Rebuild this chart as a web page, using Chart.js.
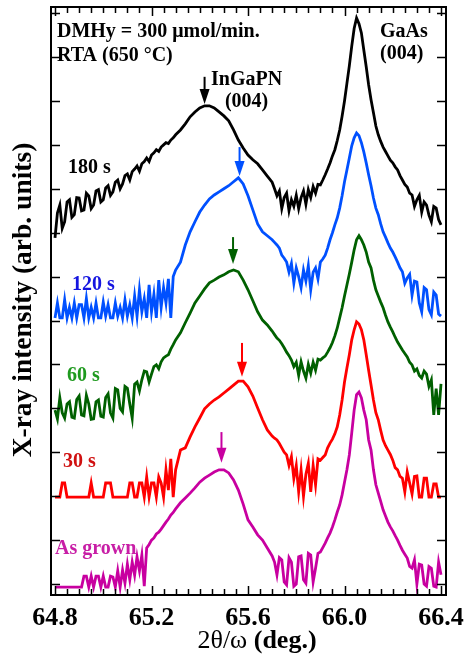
<!DOCTYPE html>
<html>
<head>
<meta charset="utf-8">
<title>XRD InGaPN RTA</title>
<script src="https://cdn.jsdelivr.net/npm/chart.js@4.4.0/dist/chart.umd.min.js"></script>
<style>
  html, body { margin: 0; padding: 0; background: #fff; }
  #wrap { width: 468px; height: 666px; }
</style>
</head>
<body>
<div id="wrap"><canvas id="xrdChart" width="468" height="666"></canvas></div>
<script>
// 2theta/omega angles (deg.): 0.01 steps, 0.02 steps over the smooth InGaPN hump
var angles = [
  64.80, 64.81, 64.82, 64.83, 64.84, 64.85, 64.86, 64.87, 64.88, 64.89,
  64.90, 64.91, 64.92, 64.93, 64.94, 64.95, 64.96, 64.97, 64.98, 64.99,
  65.00, 65.01, 65.02, 65.03, 65.04, 65.05, 65.06, 65.07, 65.08, 65.09,
  65.10, 65.11, 65.12, 65.13, 65.14, 65.15, 65.16, 65.17, 65.18, 65.19,
  65.20, 65.21, 65.22, 65.23, 65.24, 65.25, 65.26, 65.27, 65.28, 65.29,
  65.30,
  65.32, 65.34, 65.36, 65.38, 65.40, 65.42, 65.44, 65.46, 65.48, 65.50,
  65.52, 65.54, 65.56, 65.58, 65.60, 65.62, 65.64, 65.66, 65.68,
  65.70, 65.71, 65.72, 65.73, 65.74, 65.75, 65.76, 65.77, 65.78, 65.79,
  65.80, 65.81, 65.82, 65.83, 65.84, 65.85, 65.86, 65.87, 65.88, 65.89,
  65.90, 65.91, 65.92, 65.93, 65.94, 65.95, 65.96, 65.97, 65.98, 65.99,
  66.00, 66.01, 66.02, 66.03, 66.04, 66.05, 66.06, 66.07, 66.08, 66.09,
  66.10, 66.11, 66.12, 66.13, 66.14, 66.15, 66.16, 66.17, 66.18, 66.19,
  66.20, 66.21, 66.22, 66.23, 66.24, 66.25, 66.26, 66.27, 66.28, 66.29,
  66.30, 66.31, 66.32, 66.33, 66.34, 66.35, 66.36, 66.37, 66.38, 66.39,
  66.40
];

// log intensity (decades) incl. vertical offset of each curve
var rta180 = [
  7.88, 8.45, 8.63, 8.10, 8.25, 8.70, 8.75, 8.35, 8.41, 8.80,
  8.79, 8.50, 8.52, 8.90, 8.84, 8.55, 8.63, 8.95, 8.98, 8.70,
  8.75, 9.02, 9.07, 8.85, 8.93, 9.15, 9.20, 9.00, 9.11, 9.30,
  9.34, 9.20, 9.39, 9.45, 9.52, 9.40, 9.57, 9.62, 9.70, 9.62,
  9.77, 9.82, 9.89, 9.85, 9.95, 10.00, 10.05, 10.03, 10.11, 10.16,
  10.23,
  10.34, 10.48, 10.64, 10.75, 10.84, 10.89, 10.89, 10.84, 10.75, 10.66,
  10.55, 10.34, 10.11, 9.93, 9.77, 9.66, 9.57, 9.43, 9.29,
  9.15, 9.00, 8.84, 8.95, 8.55, 8.80, 8.90, 8.50, 8.75, 8.60,
  8.85, 8.55, 8.80, 8.95, 8.65, 8.98, 8.80, 9.05, 8.90, 9.10,
  9.09, 9.20, 9.32, 9.45, 9.59, 9.75, 9.89, 10.10, 10.34, 10.65,
  11.00, 11.40, 11.80, 12.25, 12.65, 12.89, 12.76, 12.55, 12.16, 11.78,
  11.37, 11.03, 10.73, 10.43, 10.23, 10.08, 9.95, 9.85, 9.75, 9.65,
  9.59, 9.50, 9.43, 9.30, 9.20, 9.10, 9.04, 8.90, 8.86, 8.60,
  8.75, 8.85, 8.47, 8.70, 8.63, 8.40, 8.25, 8.60, 8.56, 8.30,
  8.18
];
var rta120 = [
  6.06, 6.40, 6.06, 6.06, 6.47, 6.06, 6.30, 6.06, 6.40, 6.06,
  6.36, 6.36, 6.06, 6.50, 6.06, 6.30, 6.06, 6.40, 6.06, 6.06,
  6.42, 6.10, 6.36, 6.06, 6.06, 6.40, 6.10, 6.30, 6.06, 6.47,
  6.10, 6.36, 6.06, 6.56, 6.10, 6.70, 6.20, 6.50, 6.06, 6.81,
  6.20, 6.60, 6.06, 6.92, 6.30, 6.75, 6.40, 6.95, 6.06, 7.00,
  7.15,
  7.33, 7.72, 8.02, 8.25, 8.47, 8.63, 8.77, 8.86, 8.93, 9.00,
  9.07, 9.16, 9.25, 9.11, 8.84, 8.52, 8.20, 8.02, 7.93,
  7.84, 7.78, 7.72, 7.65, 7.49, 7.42, 7.33, 7.10, 7.30, 6.85,
  7.20, 7.00, 6.75, 7.15, 6.90, 7.25, 6.70, 7.10, 7.20, 6.95,
  7.33, 7.40, 7.49, 7.65, 7.84, 8.00, 8.18, 8.34, 8.56, 8.84,
  9.16, 9.43, 9.70, 9.98, 10.16, 10.27, 10.21, 10.05, 9.84, 9.59,
  9.32, 9.07, 8.79, 8.56, 8.41, 8.20, 8.02, 7.90, 7.77, 7.65,
  7.56, 7.45, 7.33, 7.20, 7.11, 6.85, 6.97, 7.05, 6.58, 6.90,
  6.88, 6.40, 6.20, 6.75, 6.70, 6.25, 6.13, 6.65, 6.58, 6.15,
  6.10
];
var rta60 = [
  3.96, 3.76, 4.24, 3.90, 3.78, 4.10, 4.15, 3.80, 3.78, 4.20,
  4.28, 3.85, 3.83, 4.30, 4.10, 3.75, 3.76, 4.15, 4.19, 3.82,
  3.80, 4.25, 4.33, 3.90, 3.78, 4.45, 4.42, 4.00, 3.92, 4.50,
  4.46, 4.10, 3.78, 4.55, 4.60, 4.40, 4.65, 4.85, 4.83, 4.60,
  4.78, 4.95, 4.99, 4.90, 5.06, 5.15, 5.19, 5.22, 5.35, 5.45,
  5.56,
  5.72, 5.95, 6.17, 6.40, 6.56, 6.72, 6.86, 6.92, 6.99, 7.04,
  7.11, 7.15, 7.11, 6.92, 6.70, 6.45, 6.20, 6.01, 5.90,
  5.76, 5.68, 5.60, 5.55, 5.47, 5.38, 5.28, 5.20, 5.10, 4.95,
  5.05, 4.75, 5.06, 4.85, 4.69, 5.00, 4.80, 5.05, 4.87, 5.12,
  5.10, 5.15, 5.19, 5.28, 5.38, 5.50, 5.65, 5.83, 6.06, 6.29,
  6.56, 6.81, 7.06, 7.33, 7.61, 7.84, 7.93, 7.84, 7.72, 7.56,
  7.33, 7.20, 6.92, 6.70, 6.56, 6.42, 6.29, 6.12, 5.97, 5.85,
  5.74, 5.62, 5.51, 5.42, 5.33, 5.25, 5.17, 5.05, 4.99, 4.85,
  4.90, 4.75, 4.69, 4.85, 4.78, 4.50, 4.65, 3.85, 4.45, 3.85,
  4.56
];
var rta30 = [
  1.98, 1.98, 1.98, 2.30, 2.30, 1.98, 1.98, 1.98, 1.98, 1.98,
  1.98, 1.98, 1.98, 1.98, 1.98, 2.30, 1.98, 1.98, 1.98, 1.98,
  1.98, 2.30, 2.30, 2.30, 1.98, 1.98, 1.98, 1.98, 1.98, 1.98,
  1.98, 2.30, 2.30, 1.98, 1.98, 2.30, 2.30, 1.98, 2.44, 1.98,
  2.30, 2.30, 1.98, 2.44, 2.30, 1.98, 2.60, 2.14, 2.85, 1.98,
  2.60,
  3.05, 3.10, 3.35, 3.58, 3.78, 3.99, 4.10, 4.19, 4.26, 4.35,
  4.44, 4.53, 4.62, 4.62, 4.49, 4.28, 4.01, 3.74, 3.51,
  3.37, 3.32, 3.28, 3.20, 3.10, 3.00, 2.94, 2.70, 2.90, 2.40,
  2.70, 2.10, 2.60, 2.00, 2.50, 2.75, 2.10, 2.70, 2.26, 2.85,
  2.82, 2.88, 2.94, 3.10, 3.21, 3.30, 3.42, 3.58, 3.85, 4.19,
  4.60, 4.92, 5.22, 5.56, 5.79, 5.97, 5.92, 5.79, 5.56, 5.22,
  4.87, 4.53, 4.19, 3.90, 3.74, 3.50, 3.28, 3.15, 3.05, 2.95,
  2.82, 2.65, 2.60, 2.45, 2.41, 2.10, 2.55, 2.30, 2.05, 2.45,
  2.46, 1.98, 1.98, 2.41, 2.41, 1.98, 1.98, 2.28, 2.28, 1.98,
  1.98
];
var asGrown = [
  -0.07, -0.07, -0.07, -0.07, -0.07, -0.07, -0.07, -0.07, -0.07, -0.07,
  -0.07, -0.07, 0.18, 0.18, -0.07, 0.18, -0.07, 0.18, 0.18, -0.07,
  0.18, -0.07, -0.07, 0.18, 0.16, -0.07, 0.30, -0.07, 0.32, 0.02,
  0.45, 0.10, 0.50, 0.20, 0.62, 0.30, 0.66, -0.05, 0.82, 0.90,
  1.00, 1.05, 1.14, 1.18, 1.25, 1.33, 1.41, 1.48, 1.57, 1.63,
  1.71,
  1.85, 1.96, 2.07, 2.19, 2.32, 2.41, 2.48, 2.55, 2.60, 2.60,
  2.53, 2.37, 2.14, 1.82, 1.46, 1.30, 1.12, 1.00, 0.82,
  0.64, 0.50, 0.21, 0.60, 0.55, 0.05, -0.02, 0.60, 0.50, -0.05,
  0.00, 0.62, 0.64, 0.10, 0.02, 0.70, 0.66, 0.05, 0.36, 0.70,
  0.73, 0.83, 0.93, 1.05, 1.16, 1.30, 1.46, 1.64, 1.80, 2.03,
  2.32, 2.60, 2.94, 3.44, 3.96, 4.31, 4.37, 4.24, 3.96, 3.74,
  3.28, 3.05, 2.60, 2.26, 2.07, 1.88, 1.69, 1.55, 1.41, 1.30,
  1.21, 1.10, 1.00, 0.88, 0.77, 0.68, 0.59, 0.40, 0.36, 0.55,
  0.00, 0.45, 0.43, 0.00, -0.05, 0.40, 0.36, -0.05, -0.07, 0.50,
  0.21
];

var xTickValues = [64.8, 65.2, 65.6, 66.0, 66.4];
var xTickLabels = ['64.8', '65.2', '65.6', '66.0', '66.4'];
var yTickValues = [0, 1, 2, 3, 4, 5, 6, 7, 8, 9, 10, 11, 12, 13];

var serif = "'Liberation Serif', 'Times New Roman', serif";

function toPoints(values) {
  return angles.map(function (a, i) { return { x: a, y: values[i] }; });
}

// InGaPN (004) peak markers: x, top of shaft, tip (in data units)
var arrows = [
  { x: 65.42, top: 11.55, tip: 10.93, color: '#000000' },
  { x: 65.565, top: 9.95, tip: 9.29, color: '#0050ff' },
  { x: 65.538, top: 7.90, tip: 7.29, color: '#006000' },
  { x: 65.575, top: 5.49, tip: 4.72, color: '#ff0000' },
  { x: 65.49, top: 3.46, tip: 2.76, color: '#c800a0' }
];

var notes = [
  { text: 'DMHy = 300 \u03bcmol/min.', x: 64.808, y: 12.46, color: '#000', align: 'left' },
  { text: 'RTA (650 \u00b0C)', x: 64.808, y: 11.91, color: '#000', align: 'left' },
  { text: 'InGaPN', x: 65.594, y: 11.37, color: '#000', align: 'center' },
  { text: '(004)', x: 65.594, y: 10.86, color: '#000', align: 'center' },
  { text: 'GaAs', x: 66.147, y: 12.46, color: '#000', align: 'left' },
  { text: '(004)', x: 66.147, y: 11.96, color: '#000', align: 'left' },
  { text: '180 s', x: 64.854, y: 9.36, color: '#000', align: 'left' },
  { text: '120 s', x: 64.870, y: 6.70, color: '#1515e0', align: 'left' },
  { text: '60 s', x: 64.850, y: 4.62, color: '#1f9a1f', align: 'left' },
  { text: '30 s', x: 64.833, y: 2.67, color: '#d01010', align: 'left' },
  { text: 'As grown', x: 64.800, y: 0.68, color: '#c81ea6', align: 'left' }
];

var framePlugin = {
  id: 'frame',
  afterDatasetsDraw: function (chart) {
    var ctx = chart.ctx;
    var area = chart.chartArea;
    var xs = chart.scales.x;
    var ys = chart.scales.y;
    ctx.save();

    // arrows
    arrows.forEach(function (a) {
      var px = xs.getPixelForValue(a.x);
      var top = ys.getPixelForValue(a.top);
      var tip = ys.getPixelForValue(a.tip);
      ctx.strokeStyle = a.color;
      ctx.fillStyle = a.color;
      ctx.lineWidth = 2;
      ctx.beginPath();
      ctx.moveTo(px, top);
      ctx.lineTo(px, tip - 12);
      ctx.stroke();
      ctx.beginPath();
      ctx.moveTo(px - 5, tip - 15);
      ctx.lineTo(px + 5, tip - 15);
      ctx.lineTo(px, tip);
      ctx.closePath();
      ctx.fill();
    });

    // texts inside the plot
    ctx.font = 'bold 20px ' + serif;
    ctx.textBaseline = 'alphabetic';
    notes.forEach(function (n) {
      ctx.fillStyle = n.color;
      ctx.textAlign = n.align;
      ctx.fillText(n.text, xs.getPixelForValue(n.x), ys.getPixelForValue(n.y));
    });

    // frame
    ctx.strokeStyle = '#000';
    ctx.lineWidth = 2;
    ctx.strokeRect(area.left, area.top, area.right - area.left, area.bottom - area.top);

    // inward ticks, x: minor every 0.05, major every 0.4
    ctx.lineWidth = 1.5;
    ctx.beginPath();
    for (var k = 0; k <= 32; k++) {
      var v = 64.8 + k * 0.05;
      var px = Math.round(xs.getPixelForValue(v)) + 0.5;
      var len = (k % 8 === 0) ? 9 : 6;
      ctx.moveTo(px, area.bottom);
      ctx.lineTo(px, area.bottom - len);
      ctx.moveTo(px, area.top);
      ctx.lineTo(px, area.top + len);
    }
    yTickValues.forEach(function (t) {
      var py = Math.round(ys.getPixelForValue(t)) + 0.5;
      ctx.moveTo(area.left, py);
      ctx.lineTo(area.left + 9, py);
      ctx.moveTo(area.right, py);
      ctx.lineTo(area.right - 9, py);
    });
    ctx.stroke();

    // axis titles
    ctx.fillStyle = '#000';
    ctx.textBaseline = 'alphabetic';
    var partA = '2\u03b8/\u03c9 ';
    var partB = '(deg.)';
    ctx.font = '26px ' + serif;
    var wA = ctx.measureText(partA).width;
    ctx.font = 'bold 26px ' + serif;
    var wB = ctx.measureText(partB).width;
    var startX = 257 - (wA + wB) / 2;
    ctx.textAlign = 'left';
    ctx.font = '26px ' + serif;
    ctx.fillText(partA, startX, 648);
    ctx.font = 'bold 26px ' + serif;
    ctx.fillText(partB, startX + wA, 648);

    ctx.translate(31, 300);
    ctx.rotate(-Math.PI / 2);
    ctx.textAlign = 'center';
    ctx.font = 'bold 27.5px ' + serif;
    ctx.fillText('X-ray intensity (arb. units)', 0, 0);

    ctx.restore();
  }
};

function lineSet(label, values, color) {
  return {
    label: label,
    data: toPoints(values),
    borderColor: color,
    borderWidth: 2.8,
    pointRadius: 0,
    tension: 0,
    fill: false
  };
}

document.addEventListener('DOMContentLoaded', function () {
  new Chart(document.getElementById('xrdChart'), {
    type: 'line',
    data: {
      datasets: [
        lineSet('180 s', rta180, '#000000'),
        lineSet('120 s', rta120, '#0050ff'),
        lineSet('60 s', rta60, '#006000'),
        lineSet('30 s', rta30, '#ff0000'),
        lineSet('As grown', asGrown, '#c800a0')
      ]
    },
    options: {
      responsive: false,
      animation: false,
      devicePixelRatio: 1,
      layout: { padding: { top: 7, right: 22, left: 0, bottom: 0 } },
      plugins: { legend: { display: false }, tooltip: { enabled: false } },
      scales: {
        x: {
          type: 'linear',
          min: 64.7834,
          max: 66.4207,
          grid: { display: false, drawTicks: false },
          border: { display: false },
          afterBuildTicks: function (scale) {
            scale.ticks = xTickValues.map(function (v) { return { value: v }; });
          },
          ticks: {
            autoSkip: false,
            maxRotation: 0,
            padding: 8,
            color: '#000',
            font: { family: serif, size: 26, weight: 'bold' },
            callback: function (value, index) { return xTickLabels[index]; }
          },
          afterFit: function (scale) {
            scale.height = 71;
            scale.paddingLeft = 0;
            scale.paddingRight = 0;
          }
        },
        y: {
          type: 'linear',
          min: -0.25,
          max: 13.14,
          grid: { display: false, drawTicks: false },
          border: { display: false },
          ticks: { display: false },
          afterFit: function (scale) {
            scale.width = 51;
            scale.paddingTop = 0;
            scale.paddingBottom = 0;
          }
        }
      }
    },
    plugins: [framePlugin]
  });
});
</script>
</body>
</html>
